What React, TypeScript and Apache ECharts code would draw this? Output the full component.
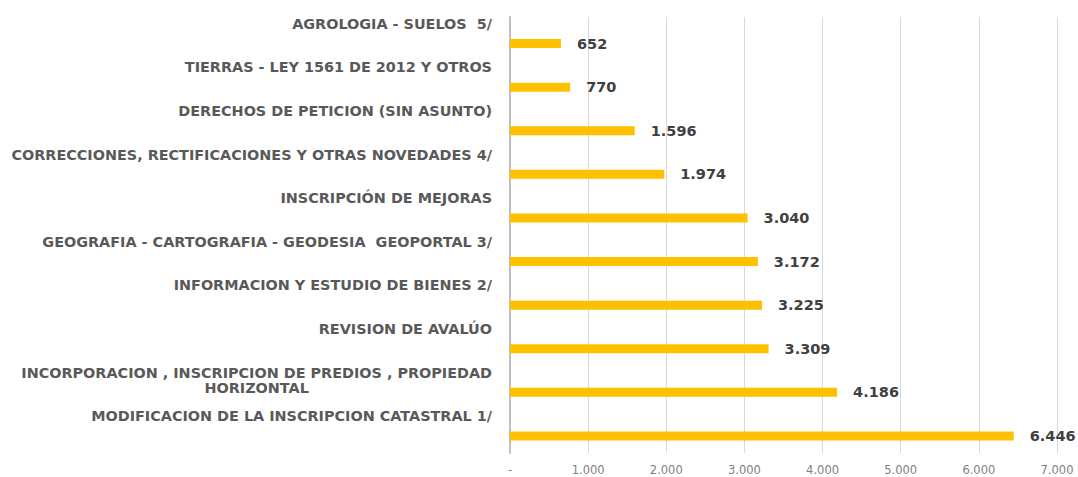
import React, { useEffect, useRef } from "react";
import * as echarts from "echarts";

const categories: string[] = [
  "AGROLOGIA - SUELOS  5/",
  "TIERRAS - LEY 1561 DE 2012 Y OTROS",
  "DERECHOS DE PETICION (SIN ASUNTO)",
  "CORRECCIONES, RECTIFICACIONES Y OTRAS NOVEDADES 4/",
  "INSCRIPCIÓN DE MEJORAS",
  "GEOGRAFIA - CARTOGRAFIA - GEODESIA  GEOPORTAL 3/",
  "INFORMACION Y ESTUDIO DE BIENES 2/",
  "REVISION DE AVALÚO",
  "INCORPORACION , INSCRIPCION DE PREDIOS , PROPIEDAD\nHORIZONTAL",
  "MODIFICACION DE LA INSCRIPCION CATASTRAL 1/",
];

const values: number[] = [652, 770, 1596, 1974, 3040, 3172, 3225, 3309, 4186, 6446];

const xMin = 0;
const xMax = 7000;
const xInterval = 1000;

const fmtThousands = (v: number): string =>
  v === 0 ? "-" : String(Math.round(v)).replace(/\B(?=(\d{3})+(?!\d))/g, ".");

export default function App() {
  const ref = useRef<HTMLDivElement>(null);

  useEffect(() => {
    document.body.style.margin = "0";
    if (!ref.current) return;
    const chart = echarts.init(ref.current, undefined, { renderer: "svg" });
    const font = "DejaVu Sans";
    const labelStyle = {
      fontFamily: font,
      fontSize: 14.4,
      fontWeight: "bold" as const,
      color: "#595959",
      lineHeight: 15,
    };
    chart.setOption({
      animation: false,
      backgroundColor: "#ffffff",
      grid: { left: 510, right: 21, top: 17, bottom: 24, containLabel: false },
      xAxis: {
        type: "value",
        min: xMin,
        max: xMax,
        interval: xInterval,
        axisLine: { show: false },
        axisTick: { show: false },
        splitLine: { show: true, lineStyle: { color: "#d9d9d9", width: 1 } },
        axisLabel: {
          formatter: (v: number) => fmtThousands(v),
          fontFamily: font,
          fontSize: 11.5,
          color: "#7f7f7f",
          margin: 11,
        },
      },
      yAxis: {
        type: "category",
        inverse: true,
        data: categories,
        axisLine: { show: true, lineStyle: { color: "#bfbfbf", width: 2 } },
        axisTick: { show: false },
        splitLine: { show: false },
        axisLabel: {
          margin: 18,
          interval: 0,
          formatter: (v: string) => {
            const lines = v.split("\n");
            if (lines.length > 1) {
              return lines.map((l) => `{c|${l}}`).join("\n") + "\n{c| }";
            }
            return `{n|${v}}\n{n| }\n{n| }`;
          },
          rich: {
            n: { ...labelStyle, align: "right" },
            c: { ...labelStyle, align: "center" },
          },
        },
      },
      series: [
        {
          type: "bar",
          name: "spacer",
          data: values.map(() => null),
          barWidth: 9,
          barGap: "5%",
          silent: true,
        },
        {
          type: "bar",
          name: "Cantidad",
          data: values,
          barWidth: 9,
          barGap: "5%",
          itemStyle: { color: "#ffc000" },
          label: {
            show: true,
            position: "right",
            distance: 16,
            formatter: (p: any) => fmtThousands(p.value),
            fontFamily: font,
            fontSize: 14.5,
            fontWeight: "bold",
            color: "#404040",
          },
        },
      ],
    });
    return () => chart.dispose();
  }, []);

  return <div ref={ref} style={{ width: 1078, height: 477 }} />;
}
